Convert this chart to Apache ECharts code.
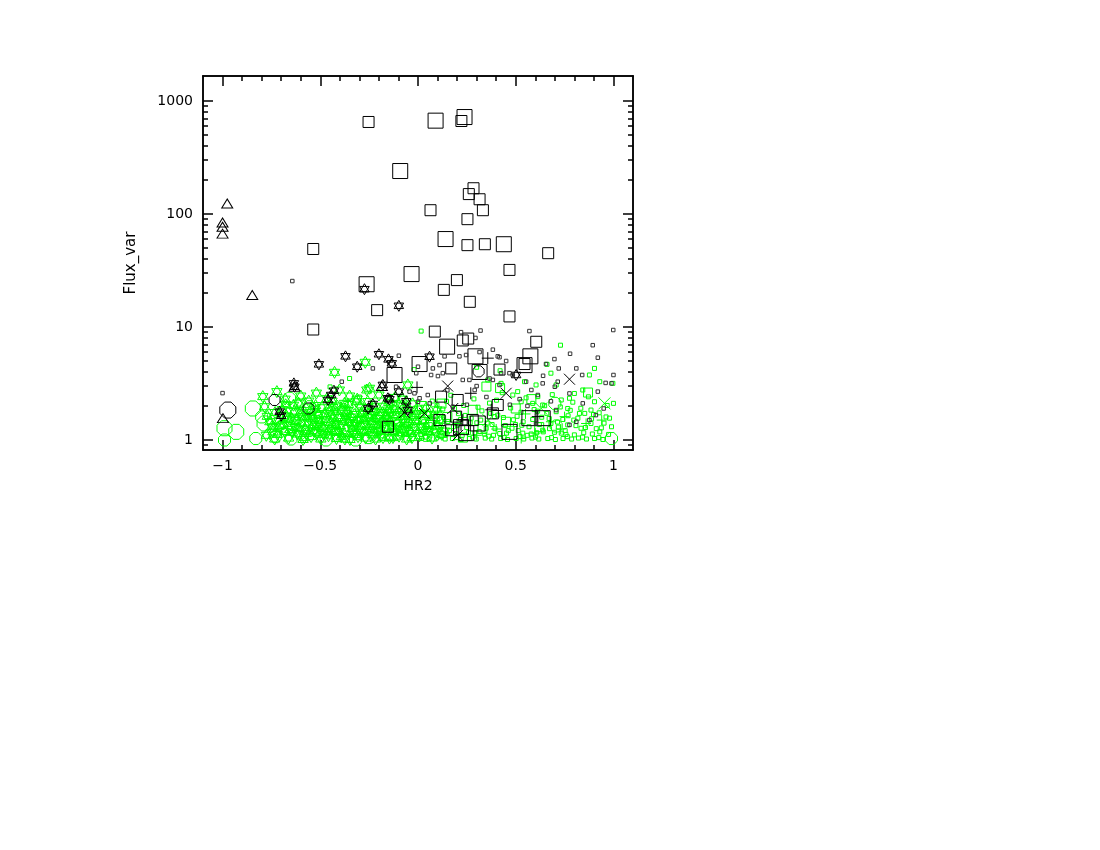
<!DOCTYPE html>
<html>
<head>
<meta charset="UTF-8">
<title>HR2 vs Flux_var</title>
<script src="https://cdn.jsdelivr.net/npm/echarts@6/dist/echarts.min.js"></script>
<style>
    html, body { margin: 0; padding: 0; background: #fff; }
    #main { width: 1100px; height: 850px; }
</style>
</head>
<body>
<div id="main"></div>
<script>
// axis ticks
var xMajorTicks = [-1, -0.5, 0, 0.5, 1];
var xMinorTicks = [-1, -0.9, -0.8, -0.7, -0.6, -0.5, -0.4, -0.3, -0.2, -0.1, 0, 0.1, 0.2, 0.3, 0.4, 0.5, 0.6, 0.7, 0.8, 0.9, 1];
var yMajorTicks = [1, 10, 100, 1000];
var yMinorTicks = [0.9, 2, 3, 4, 5, 6, 7, 8, 9, 20, 30, 40, 50, 60, 70, 80, 90, 200, 300, 400, 500, 600, 700, 800, 900];

// black points, [HR2, Flux_var]
var blackSqSmall = [[-0.253,652],[0.222,665],[-0.536,49],[0.284,169],[0.26,150],[0.315,135],[0.064,108],[0.332,108],[0.253,90],[0.253,53],[0.342,54],[0.666,45],[0.199,26],[0.132,21.3],[0.468,32],[0.265,16.7],[0.468,12.4],[-0.209,14.1],[-0.536,9.5],[0.086,9.1],[0.257,7.9],[0.229,7.6],[0.605,7.4],[0.17,4.3],[0.417,4.2],[0.118,2.42],[0.203,2.26],[0.408,2.04],[0.383,1.72],[0.195,1.61],[0.28,1.5],[0.11,1.5],[-0.154,1.31],[0.17,1.22],[0.545,4.7]];
var blackSqBig = [[0.09,670],[0.238,721],[-0.091,240],[0.141,60],[0.439,54],[-0.263,23.9],[-0.033,29.4],[0.149,6.7],[0.575,5.5],[0.294,5.5],[0.008,4.7],[-0.12,3.76],[0.545,4.6],[0.306,1.4],[0.247,1.15],[0.57,1.56],[0.638,1.56],[0.468,1.18],[0.315,4.0],[0.22,1.3]];
var blackTri = [[-0.976,124],[-1.0,84],[-1.0,77],[-1.0,67],[-0.848,19.2],[-0.998,1.56],[-0.632,2.96],[-0.185,3.0]];
var blackStars = [[-0.274,21.6],[-0.098,15.4],[-0.507,4.67],[-0.371,5.5],[-0.311,4.45],[-0.2,5.74],[-0.151,5.17],[-0.134,4.77],[-0.635,3.17],[-0.632,2.96],[-0.18,3.07],[-0.43,2.73],[-0.444,2.5],[-0.46,2.26],[-0.146,2.29],[-0.154,2.34],[-0.098,2.68],[-0.052,1.84],[-0.231,2.08],[-0.708,1.78],[-0.7,1.64],[0.059,5.46],[0.502,3.76],[-0.06,2.2],[-0.255,1.9]];
var blackOctBig = [[-0.973,1.84]];
var blackOct = [[-0.734,2.26],[0.31,4.05],[-0.56,1.9]];
var blackCross = [[0.775,3.45],[0.152,3.0],[0.451,2.59],[0.033,1.72],[0.203,1.1],[0.178,1.9],[-0.07,1.75]];
var blackPlus = [[-0.005,2.92],[0.357,5.3],[0.613,1.61],[0.229,1.5],[0.27,2.59],[0.22,1.36],[0.375,1.85]];
var blackDots = [[0.999,9.4],[0.32,9.3],[0.22,9.0],[0.294,8.0],[0.894,6.9],[0.92,5.35],[0.778,5.8],[0.698,5.2],[0.383,6.3],[0.417,5.4],[0.136,5.5],[0.212,5.5],[0.246,5.65],[0.315,6.0],[0.655,4.7],[0.72,4.3],[0.076,4.3],[0.451,5.0],[1.0,3.76],[0.99,3.17],[0.96,3.2],[0.92,2.68],[0.84,3.76],[0.81,4.3],[0.7,2.96],[0.715,3.28],[0.638,3.17],[0.553,3.28],[0.485,3.76],[0.408,5.5],[0.468,3.9],[0.383,3.4],[0.229,3.4],[0.263,3.4],[0.29,2.77],[0.127,3.9],[0.11,4.6],[0.102,3.68],[-0.009,3.9],[0.0,4.45],[0.067,3.76],[0.366,3.5],[0.417,3.07],[0.425,3.9],[0.58,2.77],[0.613,2.5],[0.775,2.58],[0.843,2.11],[0.707,1.84],[0.604,1.4],[0.775,1.36],[0.81,1.45],[0.91,1.66],[0.877,1.5],[0.178,1.97],[0.06,2.11],[0.008,2.34],[-0.018,2.59],[0.05,2.5],[-0.098,5.57],[-0.39,3.28],[-0.231,4.3],[-0.043,2.68],[-0.112,2.96],[0.0,2.18],[-1.0,2.6],[-0.643,25.5],[0.52,2.3],[0.35,2.4],[0.15,2.75],[0.57,9.2],[0.64,3.7],[0.3,3.0],[0.47,2.05],[0.25,2.05],[0.56,2.0],[0.95,1.9],[0.68,2.2]];

// green points
var greenStars = [[-0.794,2.42],[-0.722,2.68],[-0.785,1.97],[-0.427,3.97],[-0.27,4.87],[-0.262,2.77],[-0.402,2.77],[-0.052,3.07],[-0.248,2.87],[-0.316,2.18],[-0.376,2.11],
    [-0.771,1.62],[-0.748,1.31],[-0.776,1.1],[-0.733,1.02],[-0.712,1.47],[-0.694,1.86],[-0.683,1.19],[-0.662,1.04],[-0.648,1.56],[-0.637,2.03],[-0.628,1.29],[-0.617,1.13],[-0.603,1.74],[-0.596,1.41],[-0.588,1.01],[-0.577,1.23],[-0.566,1.61],[-0.559,2.21],[-0.547,1.07],[-0.538,1.36],[-0.529,1.88],[-0.518,1.16],[-0.506,1.49],[-0.497,1.02],[-0.486,1.27],[-0.479,1.71],[-0.466,2.32],[-0.458,1.09],[-0.447,1.44],[-0.436,1.94],[-0.428,1.21],[-0.417,1.03],[-0.408,1.58],[-0.397,1.33],[-0.386,1.84],[-0.378,1.13],[-0.367,1.53],[-0.356,2.06],[-0.348,1.01],[-0.337,1.26],[-0.326,1.68],[-0.318,1.39],[-0.307,1.07],[-0.296,1.96],[-0.288,1.31],[-0.277,1.54],[-0.268,1.04],[-0.257,2.19],[-0.246,1.17],[-0.237,1.46],[-0.228,1.79],[-0.217,1.02],[-0.206,1.34],[-0.197,1.64],[-0.188,1.11],[-0.176,1.99],[-0.168,1.27],[-0.157,1.51],[-0.146,1.04],[-0.138,1.76],[-0.127,1.19],[-0.118,2.38],[-0.106,1.41],[-0.097,1.08],[-0.088,1.61],[-0.077,1.24],[-0.066,1.89],[-0.058,1.02],[-0.047,1.44],[-0.036,1.14],[-0.027,2.09],[-0.016,1.29],[-0.007,1.71],[0.008,1.09],[0.024,1.48],[0.041,1.91],[0.057,1.19],[0.072,1.04],[0.088,1.58],[0.103,1.33],[0.122,1.12],
    [-0.742,1.18],[-0.705,1.33],[-0.673,1.63],[-0.655,1.24],[-0.623,1.49],[-0.585,1.82],[-0.572,1.14],[-0.542,1.56],[-0.513,1.31],[-0.491,1.93],[-0.462,1.18],[-0.441,1.66],[-0.421,1.37],[-0.392,1.07],[-0.372,1.72],[-0.352,1.43],[-0.331,1.16],[-0.302,1.52],[-0.283,1.81],[-0.262,1.22],[-0.242,1.67],[-0.222,1.38],[-0.192,1.21],[-0.172,1.42],[-0.152,1.84],[-0.133,1.32],[-0.112,1.68],[-0.092,1.16],[-0.072,1.52],[-0.042,1.22],[-0.022,1.59],[0.015,1.31],[0.048,1.68],[0.081,1.23],[-0.6,2.45],[-0.52,2.6],[-0.35,2.45],[-0.2,2.5],[-0.08,2.3],[-0.68,2.3],[-0.44,2.2],[-0.15,2.15],
    [-0.758,1.45],[-0.731,1.75],[-0.719,1.12],[-0.691,1.38],[-0.677,2.05],[-0.668,1.52],[-0.642,1.17],[-0.633,1.8],[-0.611,2.12],[-0.607,1.27],[-0.592,1.6],[-0.581,1.05],[-0.562,1.44],[-0.551,1.75],[-0.533,1.2],[-0.524,2.02],[-0.509,1.65],[-0.501,1.38],[-0.483,1.12],[-0.474,1.52],[-0.452,1.81],[-0.449,1.26],[-0.432,1.56],[-0.413,2.0],[-0.404,1.19],[-0.383,1.46],[-0.374,1.02],[-0.361,1.8],[-0.342,1.6],[-0.333,1.35],[-0.321,1.12],[-0.311,2.3],[-0.292,1.69],[-0.281,1.18],[-0.273,1.38],[-0.253,1.59],[-0.232,1.11],[-0.226,1.97],[-0.212,1.55],[-0.201,1.25],[-0.183,1.75],[-0.179,1.05],[-0.162,1.66],[-0.141,1.45],[-0.128,1.05],[-0.121,1.85],[-0.101,1.27],[-0.084,2.0],[-0.063,1.35],[-0.052,1.7],[-0.031,1.05],[-0.011,1.46],[0.004,1.88],[0.031,1.22],[0.066,1.4],[0.095,1.85],[0.113,1.5],[0.136,1.2]];
var greenOctBig = [[-0.845,1.9],[-0.99,1.27],[-0.93,1.18],[-0.785,1.4]];
var greenOct = [[-0.99,1.0],[-0.657,2.34],[-0.83,1.03],[-0.47,1.0],[-0.555,1.97],[-0.73,1.07],[-0.078,1.22],[-0.34,1.5],[-0.6,1.15],[-0.41,1.1],[-0.25,1.05],[0.7,2.11],[0.707,1.33],[0.99,1.03],[-0.7,1.3],[-0.5,1.6],[-0.15,1.3],
    [-0.62,1.7],[-0.52,1.45],[-0.43,1.25],[-0.38,1.85],[-0.28,1.3],[-0.65,1.02],[-0.32,1.0],[-0.18,1.6],[0.04,1.1],[-0.8,1.6]];
var greenSq = [[0.87,2.63],[0.42,2.88],[0.35,2.97],[0.15,1.6],[0.05,1.3],[0.33,1.25],[0.12,2.1],[-0.15,1.1],[0.5,1.9],[-0.02,1.55],[0.28,1.85],[0.62,1.3],[0.45,1.45],[0.02,2.0],[0.23,1.05],[0.58,2.3]];
var greenPlus = [[0.86,1.4],[0.94,1.5],[0.75,1.61],[0.528,1.03],[0.73,1.25],[0.6,1.15],[0.3,1.1],[0.1,1.8],[0.55,1.7],[0.68,1.45],[0.2,1.4],[-0.05,1.3],[0.4,1.25]];
var greenCross = [[0.954,2.11],[0.63,1.9],[0.36,1.5]];
var greenDots = [[0.68,3.9],[0.877,3.76],[0.93,3.28],[0.997,3.17],[0.8,2.58],[0.843,2.77],[0.775,2.34],[0.733,2.26],[0.903,2.18],[1.0,2.11],[0.98,1.56],[0.99,1.31],[0.885,1.84],[0.826,1.72],[0.766,1.9],[0.707,1.78],[0.51,2.68],[0.528,2.18],[0.485,2.5],[0.613,2.42],[0.638,2.04],[0.587,2.11],[0.357,3.4],[0.425,3.17],[0.545,3.28],[0.604,3.07],[0.707,3.07],[0.68,1.4],[0.766,1.36],[0.834,1.27],[0.885,1.4],[0.93,1.18],[0.391,1.61],[0.536,1.15],[0.638,1.22],[0.733,1.15],[0.8,1.11],
    [0.016,9.2],[0.729,6.9],[0.66,4.67],[0.903,4.3],[0.42,4.1],[0.3,4.4],
    [0.018,1.03],[0.057,1.02],[0.094,1.04],[0.139,1.02],[0.176,1.03],[0.221,1.01],[0.263,1.03],[0.298,1.02],[0.344,1.04],[0.377,1.02],[0.423,1.03],[0.458,1.01],[0.502,1.03],[0.541,1.02],[0.583,1.04],[0.618,1.02],[0.664,1.03],[0.703,1.01],[0.742,1.03],[0.786,1.02],[0.821,1.04],[0.862,1.02],[0.903,1.03],[0.946,1.01],
    [0.038,1.06],[0.117,1.07],[0.198,1.05],[0.281,1.06],[0.362,1.08],[0.441,1.05],[0.522,1.07],[0.601,1.06],[0.683,1.05],[0.764,1.07],[0.842,1.06],[0.925,1.05],
    [0.021,1.79],[0.046,1.36],[0.073,2.21],[0.088,1.62],[0.114,1.24],[0.127,1.88],[0.153,1.46],[0.168,2.49],[0.193,1.14],[0.207,1.71],[0.234,2.02],[0.249,1.29],[0.272,1.56],[0.286,2.31],[0.313,1.19],[0.327,1.81],[0.354,1.41],[0.366,2.12],[0.394,1.26],[0.408,1.66],[0.431,2.62],[0.447,1.34],[0.474,1.92],[0.488,1.51],[0.513,1.21],[0.527,1.76],[0.553,2.36],[0.568,1.31],[0.594,1.86],[0.607,1.16],[0.633,1.59],[0.648,2.01],[0.673,1.26],[0.687,2.52],[0.714,1.44],[0.728,1.96],[0.753,1.21],[0.768,1.64],[0.792,2.16],[0.808,1.34],[0.833,1.91],[0.848,1.16],[0.872,2.41],[0.888,1.54],[0.912,1.26],[0.927,1.74],[0.952,1.41],[0.968,2.02],
    [0.035,1.15],[0.062,1.55],[0.101,1.39],[0.142,1.12],[0.181,1.31],[0.218,1.52],[0.258,1.16],[0.301,1.42],[0.339,1.13],[0.379,1.37],[0.418,1.14],[0.462,1.21],[0.499,1.37],[0.538,1.45],[0.579,1.13],[0.621,1.37],[0.659,1.72],[0.698,1.17],[0.741,1.52],[0.779,1.83],[0.818,1.56],[0.857,1.29],[0.898,1.68],[0.938,1.28],[0.975,1.12],
    [0.012,1.12],[0.029,1.45],[0.053,1.72],[0.079,1.28],[0.097,2.03],[0.108,1.1],[0.131,1.58],[0.146,2.2],[0.161,1.21],[0.187,1.9],[0.201,1.35],[0.226,1.1],[0.241,1.65],[0.267,1.42],[0.291,1.16],[0.307,1.95],[0.321,1.5],[0.349,1.27],[0.372,1.72],[0.386,1.1],[0.402,2.25],[0.437,1.58],[0.453,1.15],[0.481,1.27],[0.507,1.62],[0.531,1.35],[0.559,1.1],[0.587,1.52],[0.612,1.8],[0.641,1.18],[0.671,1.55],[0.718,1.3],[0.757,1.12],[0.797,1.5],[0.853,1.72],[0.892,1.13],[0.962,1.6],
    [-0.08,1.6],[-0.12,2.1],[-0.2,1.15],[-0.3,2.4],[-0.45,2.95],[-0.55,1.3],[-0.35,3.5],[-0.02,4.2],[-0.25,1.8]];

var STAR = 'path://M5 0L9.33 7.5L0.67 7.5Z M5 10L9.33 2.5L0.67 2.5Z';
var OCT = 'path://M3 0L7 0L10 3L10 7L7 10L3 10L0 7L0 3Z';
var PLUS = 'path://M5 0L5 10M0 5L10 5';
var CROSS = 'path://M0 0L10 10M10 0L0 10';
var BLACK = '#000000';
var DOTGREY = '#333333';
var GREEN = '#00ff00';

var chartDom = document.getElementById('main');
var myChart = echarts.init(chartDom, null, {renderer: 'canvas'});
var option;

function pts(data, symbol, size, color) {
    return {
        type: 'scatter',
        data: data,
        symbol: symbol,
        symbolSize: size,
        symbolKeepAspect: true,
        itemStyle: {
            color: 'rgba(0,0,0,0)',
            borderColor: color,
            borderWidth: 1,
            opacity: 1
        },
        emphasis: {disabled: true},
        silent: true
    };
}

function xAxisOf(pos, ticks, len, labels) {
    return {
        type: 'value',
        position: pos,
        min: -1.1,
        max: 1.1,
        splitLine: {show: false},
        axisLine: {show: true, onZero: false, lineStyle: {color: BLACK, width: 1.5}},
        axisTick: {show: true, inside: true, length: len, customValues: ticks, lineStyle: {color: BLACK, width: 1.5}},
        axisLabel: {show: labels, customValues: xMajorTicks, color: BLACK, fontSize: 14, fontFamily: 'DejaVu Sans', margin: 9,
            formatter: function (v) { return String(v).replace('-', '\u2212'); }},
        name: labels ? 'HR2' : '',
        nameLocation: 'middle',
        nameGap: 29,
        nameTextStyle: {color: BLACK, fontSize: 14, fontFamily: 'DejaVu Sans'}
    };
}

function yAxisOf(pos, ticks, len, labels) {
    return {
        type: 'log',
        logBase: 10,
        position: pos,
        min: 0.8155,
        max: 1664,
        splitLine: {show: false},
        axisLine: {show: true, onZero: false, lineStyle: {color: BLACK, width: 1.5}},
        axisTick: {show: true, inside: true, length: len, customValues: ticks, lineStyle: {color: BLACK, width: 1.5}},
        axisLabel: {show: labels, customValues: yMajorTicks, color: BLACK, fontSize: 14, fontFamily: 'DejaVu Sans', margin: 10,
            formatter: function (v) { return String(Math.round(v)); }},
        name: labels ? 'Flux_var' : '',
        nameLocation: 'middle',
        nameGap: 64,
        nameTextStyle: {color: BLACK, fontSize: 15, fontFamily: 'DejaVu Sans'}
    };
}

option = {
    animation: false,
    backgroundColor: '#ffffff',
    grid: {left: 203, top: 76, width: 430, height: 374, containLabel: false},
    xAxis: [
        xAxisOf('bottom', xMajorTicks, 10, true),
        xAxisOf('bottom', xMinorTicks, 5, false),
        xAxisOf('top', xMajorTicks, 10, false),
        xAxisOf('top', xMinorTicks, 5, false)
    ],
    yAxis: [
        yAxisOf('left', yMajorTicks, 10, true),
        yAxisOf('left', yMinorTicks, 5, false),
        yAxisOf('right', yMajorTicks, 10, false),
        yAxisOf('right', yMinorTicks, 5, false)
    ],
    series: [
        pts(greenStars, STAR, 12, GREEN),
        pts(greenOctBig, OCT, 15, GREEN),
        pts(greenOct, OCT, 12, GREEN),
        pts(greenSq, 'rect', 9, GREEN),
        pts(greenPlus, PLUS, 10, GREEN),
        pts(greenCross, CROSS, 12, GREEN),
        pts(greenDots, 'rect', 4, GREEN),
        pts(blackSqSmall, 'rect', 11, BLACK),
        pts(blackSqBig, 'rect', 15, BLACK),
        pts(blackTri, 'triangle', [11, 9], BLACK),
        pts(blackStars, STAR, 11, BLACK),
        pts(blackOctBig, OCT, 16, BLACK),
        pts(blackOct, OCT, 11, BLACK),
        pts(blackCross, CROSS, 11, BLACK),
        pts(blackPlus, PLUS, 12, BLACK),
        pts(blackDots, 'rect', 3.5, DOTGREY)
    ]
};

option && myChart.setOption(option);
</script>
</body>
</html>
